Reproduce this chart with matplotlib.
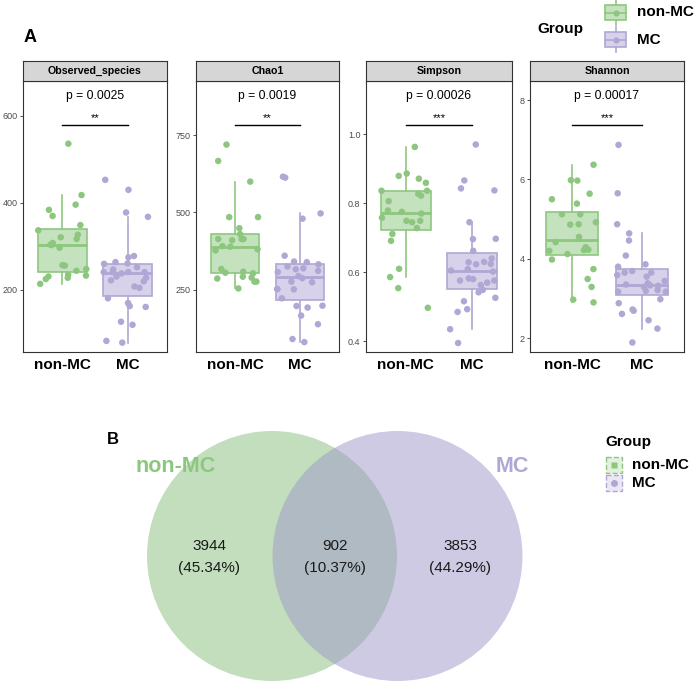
import numpy as np
import matplotlib
matplotlib.use("Agg")
import matplotlib.pyplot as plt
from matplotlib.patches import Circle, Rectangle
from matplotlib.lines import Line2D

plt.rcParams['font.family'] = ['Liberation Sans', 'DejaVu Sans']

# ---- data ----
groups = ['non-MC', 'MC']
metrics = ['Observed_species', 'Chao1', 'Simpson', 'Shannon']
p_values = ['p = 0.0025', 'p = 0.0019', 'p = 0.00026', 'p = 0.00017']
stars = ['**', '**', '***', '***']

obs_nonmc = [536, 418, 396, 384, 370, 349, 337, 327, 317, 321, 308, 303,
             304, 297, 257, 256, 248, 244, 235, 233, 231, 225, 228, 214]
obs_mc = [453, 430, 378, 368, 278, 275, 261, 264, 260, 241, 252, 247, 238,
          241, 220, 222, 231, 228, 241, 241, 208, 205, 181, 163, 170, 161,
          127, 120, 83, 79]

chao_nonmc = [720, 667, 600, 485, 485, 449, 430, 414, 414, 414, 410, 391,
              389, 377, 381, 317, 308, 305, 303, 292, 286, 289, 276, 276, 254]
chao_mc = [616, 613, 497, 480, 360, 332, 339, 319, 341, 316, 325, 307, 311,
           294, 287, 276, 274, 252, 251, 252, 222, 198, 192, 197, 166, 138,
           90, 80]

simp_nonmc = [0.963, 0.879, 0.886, 0.871, 0.859, 0.806, 0.836, 0.836, 0.827,
              0.822, 0.779, 0.775, 0.770, 0.758, 0.745, 0.749, 0.749, 0.728,
              0.711, 0.691, 0.610, 0.586, 0.554, 0.497]
simp_mc = [0.970, 0.866, 0.843, 0.837, 0.745, 0.697, 0.696, 0.662, 0.640,
           0.630, 0.623, 0.629, 0.624, 0.609, 0.602, 0.605, 0.582, 0.580,
           0.576, 0.576, 0.570, 0.563, 0.549, 0.542, 0.526, 0.516, 0.493,
           0.485, 0.435, 0.395]

shan_nonmc = [6.37, 5.64, 5.50, 5.97, 5.98, 5.39, 5.12, 5.12, 4.92, 4.86,
              4.87, 4.55, 4.42, 4.20, 4.12, 4.29, 4.23, 4.22, 3.98, 3.74,
              3.49, 3.29, 2.97, 2.90]
shan_mc = [6.87, 5.65, 4.87, 4.64, 4.46, 4.08, 3.86, 3.80, 3.55, 3.65, 3.65,
           3.59, 3.69, 3.44, 3.29, 3.32, 3.33, 3.38, 3.35, 3.19, 3.17, 3.21,
           3.17, 2.98, 2.88, 2.69, 2.72, 2.61, 2.45, 2.24, 1.89]

venn_counts = [3944, 902, 3853]   # non-MC only, shared, MC only

# ---- styles / layout ----
W, H = 695, 682
green = '#8DC77F'
purple = '#B1A7D5'
venn_green = '#89BF7D'
venn_purple = '#9F97C9'

panel_data = [(obs_nonmc, obs_mc), (chao_nonmc, chao_mc),
              (simp_nonmc, simp_mc), (shan_nonmc, shan_mc)]
panel_x = [(23, 167), (196, 339), (366, 512), (530, 684)]
ylims = [(57.5, 680), (48, 926), (0.369, 1.154), (1.65, 8.48)]
yticks = [[200, 400, 600], [250, 500, 750], [0.4, 0.6, 0.8, 1.0], [2, 4, 6, 8]]
ytick_labels = [['200', '400', '600'], ['250', '500', '750'],
                ['0.4', '0.6', '0.8', '1.0'], ['2', '4', '6', '8']]
top, bottom, strip_top = 81, 352, 61

fig = plt.figure(figsize=(W / 100, H / 100), dpi=100)


def px_axes(x0, y0, x1, y1):
    return fig.add_axes([x0 / W, 1 - y1 / H, (x1 - x0) / W, (y1 - y0) / H])


rng = np.random.default_rng(7)

for i, (x0, x1) in enumerate(panel_x):
    ax = px_axes(x0, top, x1, bottom)
    cols = [green, purple]
    bp = ax.boxplot(panel_data[i], positions=[1, 2], widths=0.75,
                    patch_artist=True, showfliers=False, showcaps=False,
                    whis=1.5, zorder=2)
    for j, c in enumerate(cols):
        bp['boxes'][j].set(facecolor=matplotlib.colors.to_rgba(c, 0.5),
                           edgecolor=c, linewidth=1.2)
        bp['medians'][j].set(color=c, linewidth=2)
        for w in bp['whiskers'][2 * j:2 * j + 2]:
            w.set(color=c, linewidth=1.2)
        vals = np.array(panel_data[i][j])
        jit = rng.uniform(-0.37, 0.37, len(vals))
        ax.scatter(j + 1 + jit, vals, s=22, color=c, edgecolors='none', zorder=3)

    ax.set_xlim(0.4, 2.6)
    ax.set_ylim(*ylims[i])
    ax.set_yticks(yticks[i])
    ax.set_yticklabels(ytick_labels[i])
    ax.set_xticks([1, 2])
    ax.set_xticklabels(groups, fontsize=11, fontweight='bold')
    ax.tick_params(axis='x', length=0, pad=4)
    ax.tick_params(axis='y', length=2.5, width=0.6, labelsize=6.5,
                   labelcolor='#4d4d4d', color='#333333', pad=1.5)
    for s in ax.spines.values():
        s.set_color('#333333')
        s.set_linewidth(0.8)

    tr = ax.get_xaxis_transform()
    ax.plot([1, 2], [0.838, 0.838], color='black', lw=1, transform=tr)
    ax.text(1.5, 0.852, stars[i], ha='center', va='baseline', fontsize=8,
            transform=tr)
    ax.text(1.5, 0.945, p_values[i], ha='center', va='center', fontsize=8.7,
            transform=tr)

    st = px_axes(x0, strip_top, x1, top)
    st.set_facecolor('#d6d6d6')
    st.set_xticks([])
    st.set_yticks([])
    for s in st.spines.values():
        s.set_color('#333333')
        s.set_linewidth(0.8)
    st.text(0.5, 0.5, metrics[i], ha='center', va='center', fontsize=7.7,
            fontweight='bold', transform=st.transAxes)

# ---- overlay (pixel coordinates) for labels, legends and venn ----
ov = fig.add_axes([0, 0, 1, 1])
ov.set_xlim(0, W)
ov.set_ylim(H, 0)
ov.axis('off')
ov.patch.set_visible(False)

ov.text(30.5, 37.5, 'A', ha='center', va='center', fontsize=13,
        fontweight='bold')
ov.text(113, 440, 'B', ha='center', va='center', fontsize=12,
        fontweight='bold')

# top legend: boxplot glyphs
ov.text(560, 29, 'Group', ha='center', va='center', fontsize=11,
        fontweight='bold')
for c, lab, cy in [(green, 'non-MC', 12.5), (purple, 'MC', 39.5)]:
    ov.add_patch(Rectangle((605, cy - 7.5), 21, 15,
                           facecolor=matplotlib.colors.to_rgba(c, 0.5),
                           edgecolor=c, lw=1.2))
    ov.add_line(Line2D([615.5, 615.5], [cy - 12.5, cy - 7.5], color=c, lw=1.2))
    ov.add_line(Line2D([615.5, 615.5], [cy + 7.5, cy + 12.5], color=c, lw=1.2))
    ov.add_line(Line2D([605, 626], [cy, cy], color=c, lw=1.2))
    ov.plot([615.5], [cy], 'o', color=c, ms=4.5, mec='none')
    ov.text(637, cy, lab, ha='left', va='center', fontsize=11,
            fontweight='bold')

# venn diagram
total = sum(venn_counts)
ov.add_patch(Circle((272, 556), 125, facecolor=venn_green, alpha=0.5,
                    edgecolor='none'))
ov.add_patch(Circle((397.5, 556), 125, facecolor=venn_purple, alpha=0.5,
                    edgecolor='none'))
for cx, n in zip([209, 335, 460], venn_counts):
    ov.text(cx, 546, f'{n}', ha='center', va='center', fontsize=11,
            color='#1a1a1a')
    ov.text(cx, 568, f'({n / total * 100:.2f}%)', ha='center', va='center',
            fontsize=11, color='#1a1a1a')
ov.text(176, 467, 'non-MC', ha='center', va='center', fontsize=15.5,
        fontweight='bold', color=green)
ov.text(512, 466, 'MC', ha='center', va='center', fontsize=15.5,
        fontweight='bold', color=purple)

# venn legend
ov.text(605, 442, 'Group', ha='left', va='center', fontsize=11,
        fontweight='bold')
for c, lab, cy, mk in [(green, 'non-MC', 465, 's'), (purple, 'MC', 483, 'o')]:
    ov.add_patch(Rectangle((605.5, cy - 8), 16, 16,
                           facecolor=matplotlib.colors.to_rgba(c, 0.25),
                           edgecolor=c, lw=1, ls='--'))
    ov.plot([613.5], [cy], mk, color=c, ms=5, mec='none')
    ov.text(632, cy, lab, ha='left', va='center', fontsize=11,
            fontweight='bold')

fig.savefig('out.png', dpi=100)
